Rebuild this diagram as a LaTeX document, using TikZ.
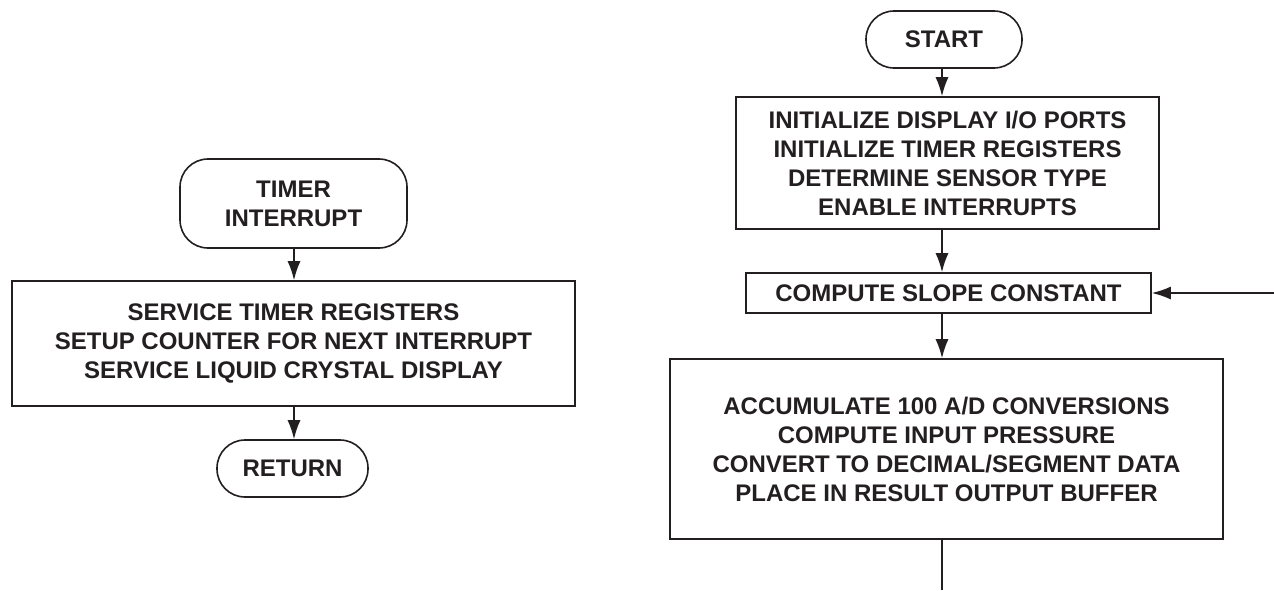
\documentclass[tikz,border=0pt]{standalone}
\usepackage{fontspec}
\setmainfont{Liberation Sans}
\usetikzlibrary{arrows.meta}
\definecolor{ink}{RGB}{35,31,32}
\tikzset{
  proc/.style={draw=ink, line width=1.6pt, rectangle, inner sep=0pt, align=center,
    text=ink, font=\fontsize{24}{29}\selectfont\bfseries},
  term/.style={proc, rounded corners=28pt},
  arr/.style={draw=ink, line width=1.6pt, -{Latex[length=19pt,width=13pt]}},
  ln/.style={draw=ink, line width=1.6pt}
}
\begin{document}
\begin{tikzpicture}[x=1pt,y=-1pt]
\useasboundingbox (0,0) rectangle (1274,590);
% left flow
\node[term, minimum width=227pt, minimum height=89pt] (timer) at (293.5,203.5) {TIMER\\INTERRUPT};
\node[proc, minimum width=563pt, minimum height=125pt] (service) at (293.5,343.5)
  {SERVICE TIMER REGISTERS\\SETUP COUNTER FOR NEXT INTERRUPT\\SERVICE LIQUID CRYSTAL DISPLAY};
\node[term, minimum width=151pt, minimum height=57pt] (ret) at (292.5,468.5) {RETURN};
\coordinate (lcol) at (294,0);
\draw[arr] (lcol |- timer.south) -- (lcol |- service.north);
\draw[arr] (lcol |- service.south) -- (lcol |- ret.north);
% right flow
\node[term, minimum width=156pt, minimum height=57pt] (start) at (944,39.5) {START};
\node[proc, minimum width=423pt, minimum height=132pt] (init) at (947.5,163)
  {INITIALIZE DISPLAY I/O PORTS\\INITIALIZE TIMER REGISTERS\\DETERMINE SENSOR TYPE\\ENABLE INTERRUPTS};
\node[proc, minimum width=405pt, minimum height=40pt] (slope) at (948.5,293) {COMPUTE SLOPE CONSTANT};
\node[proc, minimum width=553pt, minimum height=180pt] (acc) at (946.5,449)
  {ACCUMULATE 100 A/D CONVERSIONS\\COMPUTE INPUT PRESSURE\\CONVERT TO DECIMAL/SEGMENT DATA\\PLACE IN RESULT OUTPUT BUFFER};
\coordinate (rcol) at (942,0);
\coordinate (loopin) at (1274,293);
\coordinate (loopout) at (942,590);
\draw[arr] (rcol |- start.south) -- (rcol |- init.north);
\draw[arr] (rcol |- init.south) -- (rcol |- slope.north);
\draw[arr] (rcol |- slope.south) -- (rcol |- acc.north);
\draw[arr] (loopin) -- (slope.east);
\draw[ln] (rcol |- acc.south) -- (loopout);
\end{tikzpicture}
\end{document}
